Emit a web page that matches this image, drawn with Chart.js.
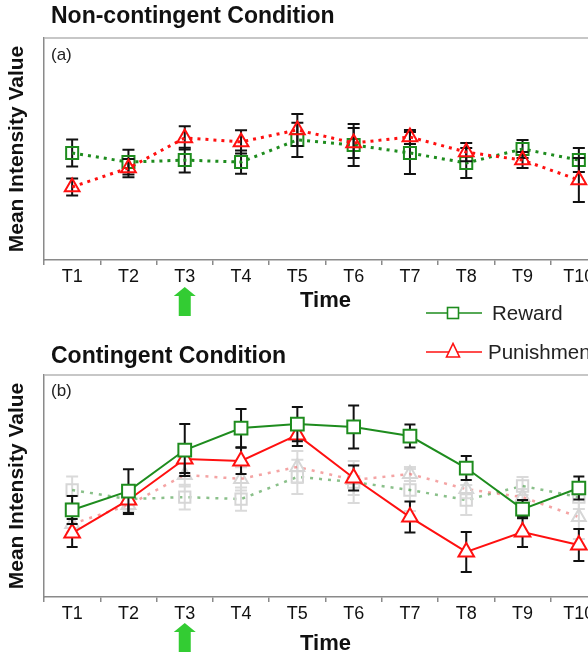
<!DOCTYPE html>
<html><head><meta charset="utf-8">
<script src="https://cdn.jsdelivr.net/npm/chart.js@4.4.1/dist/chart.umd.min.js"></script>
<style>
html,body{margin:0;padding:0;background:#fff;width:588px;height:655px;overflow:hidden;position:relative;font-family:"Liberation Sans",Arial,sans-serif;}
#ca{position:absolute;left:0;top:0;width:620px;height:320px;}
#cb{position:absolute;left:0;top:330px;width:620px;height:330px;}
.legsym{position:absolute;}
.legtxt{position:absolute;white-space:nowrap;font-size:20.5px;line-height:22px;color:#222;}
</style></head><body>
<canvas id="ca" width="620" height="320"></canvas>
<canvas id="cb" width="620" height="330"></canvas>
<svg class="legsym" style="left:426px;top:303px" width="58" height="20"><line x1="0" y1="10" x2="56" y2="10" stroke="#1e8c1e" stroke-width="1.5"/><rect x="21.5" y="4.5" width="11" height="11" fill="#fff" stroke="#1e8c1e" stroke-width="1.6"/></svg>
<div class="legtxt" style="left:492px;top:302px">Reward</div>
<svg class="legsym" style="left:426px;top:342px" width="58" height="20"><line x1="0" y1="10" x2="56" y2="10" stroke="#ff1010" stroke-width="1.5"/><polygon points="27,1.5 20.5,15 33.5,15" fill="#fff" stroke="#ff1010" stroke-width="1.6"/></svg>
<div class="legtxt" style="left:488px;top:341px">Punishment</div>
<script>
const FONT = '"Liberation Sans", Arial, sans-serif';
const timeLabels = ['T1','T2','T3','T4','T5','T6','T7','T8','T9','T10'];
// Panel (a) Non-contingent
const rewardNonContingent    = [48.2, 44.1, 45.0, 44.1, 54.1, 51.8, 48.2, 43.7, 50.0, 45.0];
const rewardNonContingentErr = [6.1, 5.6, 5.6, 5.2, 7.7, 9.5, 9.5, 6.8, 4.1, 5.4];
const punishNonContingent    = [32.9, 41.4, 55.0, 53.2, 58.6, 52.7, 55.4, 48.6, 45.0, 36.0];
const punishNonContingentErr = [3.8, 4.1, 5.2, 5.2, 7.2, 6.8, 3.2, 4.1, 3.6, 9.9];
// Panel (b) Contingent
const rewardContingent    = [39.2, 47.7, 66.2, 76.1, 77.9, 76.6, 72.5, 58.1, 39.6, 49.1];
const rewardContingentErr = [6.3, 9.9, 11.7, 8.6, 7.7, 9.7, 5.2, 5.4, 4.1, 5.2];
const punishContingent    = [28.8, 43.7, 62.2, 61.3, 73.0, 53.6, 36.0, 20.3, 29.3, 23.4];
const punishContingentErr = [6.3, 6.3, 6.3, 5.9, 5.0, 5.6, 7.0, 9.0, 6.8, 7.2];

const GREEN = '#1e8c1e', RED = '#ff1010';

const errorBars = {
  id: 'errorBars',
  beforeDatasetDraw(chart, args) {
    const ds = chart.data.datasets[args.index];
    if (!ds.errors) return;
    const ys = chart.scales.y, ctx = chart.ctx, cap = ds.errorCap || 6;
    ctx.save();
    ctx.strokeStyle = ds.errorColor || '#111';
    ctx.lineWidth = 2;
    args.meta.data.forEach((pt, i) => {
      const v = ds.data[i], e = ds.errors[i];
      const x = pt.x, yt = ys.getPixelForValue(v + e), yb = ys.getPixelForValue(v - e);
      ctx.beginPath();
      ctx.moveTo(x, yt); ctx.lineTo(x, yb);
      ctx.moveTo(x - cap, yt); ctx.lineTo(x + cap, yt);
      ctx.moveTo(x - cap, yb); ctx.lineTo(x + cap, yb);
      ctx.stroke();
    });
    ctx.restore();
  }
};

const decor = {
  id: 'decor',
  afterDraw(chart, args, opts) {
    const ctx = chart.ctx, a = chart.chartArea;
    ctx.save();
    ctx.strokeStyle = '#b4b4b4'; ctx.lineWidth = 1.5;
    ctx.beginPath(); ctx.moveTo(a.left, a.top); ctx.lineTo(a.right, a.top); ctx.stroke();
    ctx.fillStyle = '#111';
    ctx.textBaseline = 'alphabetic'; ctx.textAlign = 'left';
    ctx.font = 'bold 23px ' + FONT;
    ctx.fillText(opts.heading, 51, opts.headingY);
    ctx.font = '17px ' + FONT;
    ctx.fillStyle = '#222';
    ctx.textBaseline = 'middle';
    ctx.fillText(opts.tag, 51, a.top + opts.tagDy);
    const x = chart.scales.x.getPixelForValue(2);
    const tip = a.bottom + opts.arrowDy;
    ctx.fillStyle = '#33cc33';
    ctx.beginPath();
    ctx.moveTo(x, tip);
    ctx.lineTo(x + 11, tip + 9);
    ctx.lineTo(x + 6, tip + 9);
    ctx.lineTo(x + 6, tip + 29);
    ctx.lineTo(x - 6, tip + 29);
    ctx.lineTo(x - 6, tip + 9);
    ctx.lineTo(x - 11, tip + 9);
    ctx.closePath(); ctx.fill();
    ctx.restore();
  }
};

function scalesCfg(xh, titlePadBottom) {
  return {
    x: {
      type: 'category', offset: true,
      grid: { offset: true, drawOnChartArea: false, drawTicks: true, tickLength: 5, color: '#8a8a8a', lineWidth: 1.5 },
      border: { display: true, color: '#8a8a8a', width: 1.5 },
      ticks: { font: { size: 18, family: FONT }, color: '#111', padding: 1, maxRotation: 0, autoSkip: false },
      title: { display: true, text: 'Time', font: { size: 22, weight: 'bold', family: FONT }, color: '#111', padding: { top: 0, bottom: titlePadBottom } },
      afterFit(s) { s.height = xh; }
    },
    y: {
      min: 0, max: 100,
      grid: { display: false },
      border: { display: true, color: '#8a8a8a', width: 1.5 },
      ticks: { display: false },
      title: { display: true, text: 'Mean Intensity Value', font: { size: 21, weight: 'bold', family: FONT }, color: '#111', padding: { top: 5, bottom: 0 } },
      afterFit(s) { s.width = 44; }
    }
  };
}

function dotted(label, data, err, color, style, order) {
  return {
    label, data, errors: err, errorColor: '#111', errorCap: 6,
    borderColor: color, borderWidth: 3, borderDash: [3, 5],
    pointStyle: style, pointRadius: 8.5, pointBorderWidth: 2,
    pointBorderColor: color, pointBackgroundColor: 'rgba(0,0,0,0)',
    fill: false, tension: 0, order
  };
}

new Chart(document.getElementById('ca'), {
  type: 'line',
  data: {
    labels: timeLabels,
    datasets: [
      dotted('Reward', rewardNonContingent, rewardNonContingentErr, GREEN, 'rect', 2),
      dotted('Punishment', punishNonContingent, punishNonContingentErr, RED, 'triangle', 1)
    ]
  },
  options: {
    responsive: false, animation: false,
    layout: { padding: { top: 38, right: 13, left: 0, bottom: 0 } },
    plugins: { legend: { display: false }, tooltip: { enabled: false },
      decor: { heading: 'Non-contingent Condition', headingY: 23, tag: '(a)', tagDy: 17, arrowDy: 27 } },
    scales: scalesCfg(60, 6)
  },
  plugins: [errorBars, decor]
});

function ghost(label, data, err, lineColor, style, order) {
  return {
    label, data, errors: err, errorColor: '#dadada', errorCap: 6,
    borderColor: lineColor, borderWidth: 2.5, borderDash: [3, 6],
    pointStyle: style, pointRadius: 8, pointBorderWidth: 2,
    pointBorderColor: '#d6d6d6', pointBackgroundColor: 'rgba(0,0,0,0)',
    fill: false, tension: 0, order
  };
}
function solid(label, data, err, color, style, order) {
  return {
    label, data, errors: err, errorColor: '#111', errorCap: 5.5,
    borderColor: color, borderWidth: 2,
    pointStyle: style, pointRadius: 9, pointBorderWidth: 2,
    pointBorderColor: color, pointBackgroundColor: '#fff',
    fill: false, tension: 0, order
  };
}

new Chart(document.getElementById('cb'), {
  type: 'line',
  data: {
    labels: timeLabels,
    datasets: [
      ghost('Reward (non-contingent)', rewardNonContingent, rewardNonContingentErr, 'rgba(60,150,60,0.6)', 'rect', 4),
      ghost('Punishment (non-contingent)', punishNonContingent, punishNonContingentErr, 'rgba(235,90,90,0.55)', 'triangle', 3),
      solid('Reward', rewardContingent, rewardContingentErr, GREEN, 'rect', 1),
      solid('Punishment', punishContingent, punishContingentErr, RED, 'triangle', 2)
    ]
  },
  options: {
    responsive: false, animation: false,
    layout: { padding: { top: 45, right: 13, left: 0, bottom: 0 } },
    plugins: { legend: { display: false }, tooltip: { enabled: false },
      decor: { heading: 'Contingent Condition', headingY: 33, tag: '(b)', tagDy: 16, arrowDy: 26 } },
    scales: scalesCfg(63, 3)
  },
  plugins: [errorBars, decor]
});
</script>
</body></html>
